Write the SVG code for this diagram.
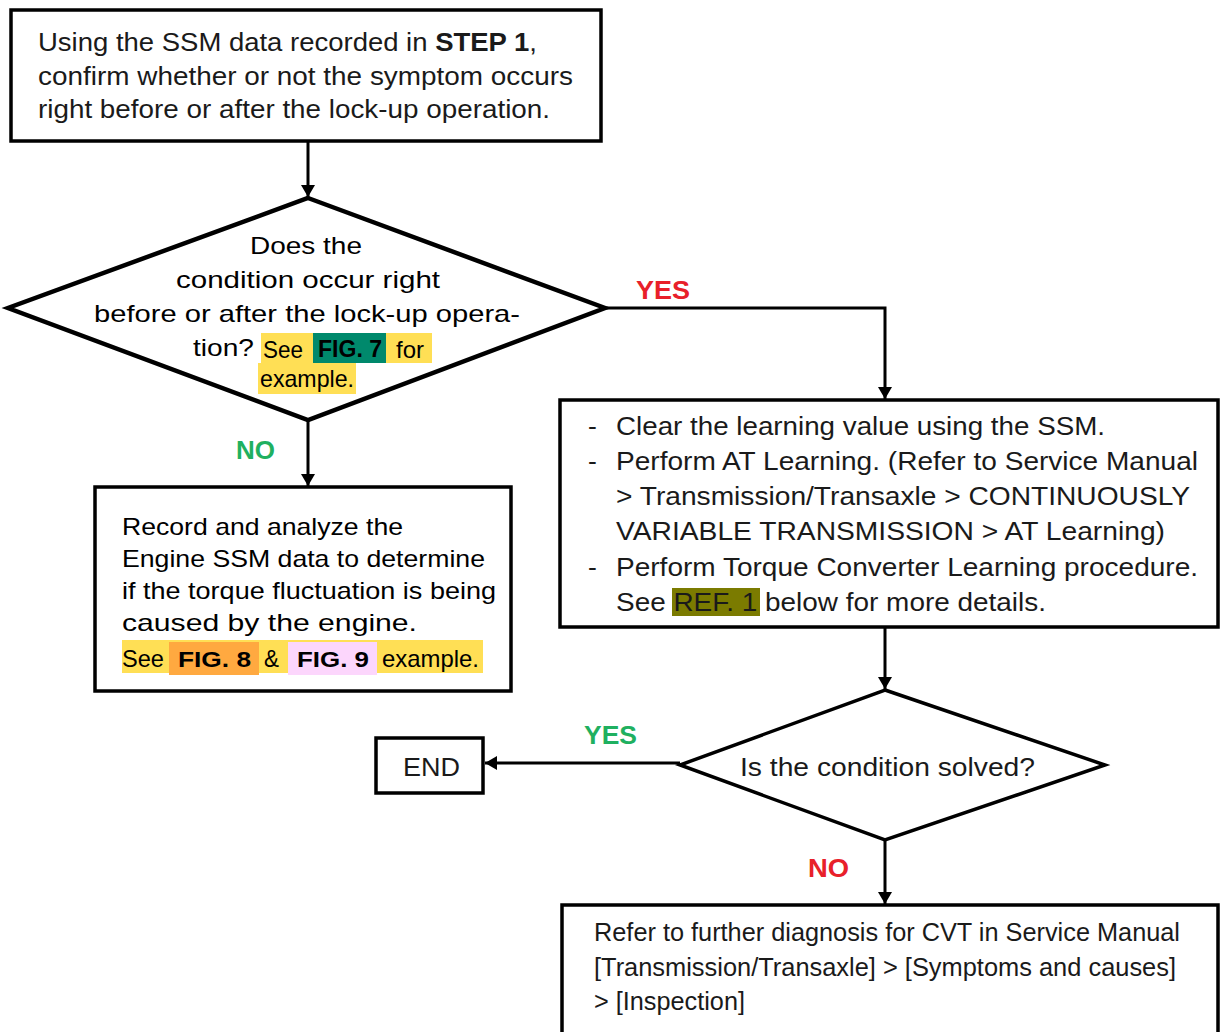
<svg xmlns="http://www.w3.org/2000/svg" width="1220" height="1032" viewBox="0 0 1220 1032">
<defs>
<style>
.box{fill:#fff;stroke:#000;stroke-width:3.5}
.cn{font-family:"Liberation Sans",Arial,sans-serif;font-size:26.5px;fill:#1a1a1a}
.hv{font-family:"Liberation Sans",Arial,sans-serif;font-size:24px;fill:#000}
.blk{font-family:"Liberation Sans",Arial,sans-serif;font-weight:900;font-size:22px;fill:#000}
.lbl{font-family:"Liberation Sans",Arial,sans-serif;font-weight:bold;font-size:26px}
.red{fill:#e8202a}
.grn{fill:#1fb060}
.ln{fill:none;stroke:#000;stroke-width:3}
</style>
<marker id="ah" viewBox="0 0 12 16" refX="12" refY="8" markerWidth="12" markerHeight="16" markerUnits="userSpaceOnUse" orient="auto">
<path d="M0,1 L12,8 L0,15 Z" fill="#000"/>
</marker>
</defs>
<rect width="1220" height="1032" fill="#fff"/>
<g id="connectors">
<line class="ln" x1="308" y1="141" x2="308" y2="197" marker-end="url(#ah)"/>
<line class="ln" x1="308" y1="420" x2="308" y2="486" marker-end="url(#ah)"/>
<polyline class="ln" points="605,308 885,308 885,399" marker-end="url(#ah)"/>
<line class="ln" x1="885" y1="627" x2="885" y2="689" marker-end="url(#ah)"/>
<line class="ln" x1="680" y1="763" x2="485" y2="763" marker-end="url(#ah)"/>
<line class="ln" x1="885" y1="840" x2="885" y2="904" marker-end="url(#ah)"/>
<text class="lbl red" x="636" y="299" textLength="54" lengthAdjust="spacingAndGlyphs">YES</text>
<text class="lbl grn" x="236" y="459" textLength="39" lengthAdjust="spacingAndGlyphs">NO</text>
<text class="lbl grn" x="584" y="744" textLength="53" lengthAdjust="spacingAndGlyphs">YES</text>
<text class="lbl red" x="808" y="877" textLength="41" lengthAdjust="spacingAndGlyphs">NO</text>
</g>
<g id="step1">
<rect class="box" x="11" y="10" width="590" height="131"/>
<text class="cn" x="38" y="51" textLength="499" lengthAdjust="spacingAndGlyphs">Using the SSM data recorded in <tspan font-weight="bold">STEP 1</tspan>,</text>
<text class="cn" x="38" y="85" textLength="535" lengthAdjust="spacingAndGlyphs">confirm whether or not the symptom occurs</text>
<text class="cn" x="38" y="118" textLength="512" lengthAdjust="spacingAndGlyphs">right before or after the lock-up operation.</text>
</g>
<g id="decision1">
<polygon points="308,198 605,308 308,420 8,308" fill="#fff" stroke="#000" stroke-width="4.5" stroke-linejoin="miter"/>
<rect x="261" y="333" width="171" height="30" fill="#ffdf55"/>
<rect x="313" y="333" width="73" height="30" fill="#00896c"/>
<rect x="258" y="363" width="98" height="31" fill="#ffdf55"/>
<text class="hv" x="250" y="254" textLength="112" lengthAdjust="spacingAndGlyphs">Does the</text>
<text class="hv" x="176" y="288" textLength="264" lengthAdjust="spacingAndGlyphs">condition occur right</text>
<text class="hv" x="94" y="322" textLength="426" lengthAdjust="spacingAndGlyphs">before or after the lock-up opera-</text>
<text class="hv" x="193" y="356" textLength="61" lengthAdjust="spacingAndGlyphs">tion?</text>
<text class="hv" x="263" y="358" textLength="40" lengthAdjust="spacingAndGlyphs">See</text>
<text class="hv" x="318" y="357" font-weight="bold" textLength="64" lengthAdjust="spacingAndGlyphs">FIG. 7</text>
<text class="hv" x="396" y="358" textLength="28" lengthAdjust="spacingAndGlyphs">for</text>
<text class="hv" x="260" y="387" textLength="94" lengthAdjust="spacingAndGlyphs">example.</text>
</g>
<g id="engine-check">
<rect class="box" x="95" y="487" width="416" height="204"/>
<rect x="122" y="640" width="361" height="33" fill="#ffdf55"/>
<rect x="169" y="642" width="90" height="33" fill="#ffa940"/>
<rect x="288" y="642" width="89" height="33" fill="#fcd6fc"/>
<text class="hv" x="122" y="535" textLength="281" lengthAdjust="spacingAndGlyphs">Record and analyze the</text>
<text class="hv" x="122" y="567" textLength="363" lengthAdjust="spacingAndGlyphs">Engine SSM data to determine</text>
<text class="hv" x="122" y="599" textLength="374" lengthAdjust="spacingAndGlyphs">if the torque fluctuation is being</text>
<text class="hv" x="122" y="631" textLength="295" lengthAdjust="spacingAndGlyphs">caused by the engine.</text>
<text class="hv" x="122" y="667" textLength="42" lengthAdjust="spacingAndGlyphs">See</text>
<text class="blk" x="178" y="667" textLength="73" lengthAdjust="spacingAndGlyphs">FIG. 8</text>
<text class="hv" x="264" y="667" textLength="15" lengthAdjust="spacingAndGlyphs">&amp;</text>
<text class="blk" x="297" y="667" textLength="72" lengthAdjust="spacingAndGlyphs">FIG. 9</text>
<text class="hv" x="382" y="667" textLength="97" lengthAdjust="spacingAndGlyphs">example.</text>
</g>
<g id="learning">
<rect class="box" x="560" y="400" width="658" height="227"/>
<rect x="672" y="588" width="88" height="28" fill="#7b7b00"/>
<text class="cn" x="588" y="435">-</text>
<text class="cn" x="616" y="435" textLength="489" lengthAdjust="spacingAndGlyphs">Clear the learning value using the SSM.</text>
<text class="cn" x="588" y="470">-</text>
<text class="cn" x="616" y="470" textLength="582" lengthAdjust="spacingAndGlyphs">Perform AT Learning. (Refer to Service Manual</text>
<text class="cn" x="616" y="505" textLength="574" lengthAdjust="spacingAndGlyphs">&gt; Transmission/Transaxle &gt; CONTINUOUSLY</text>
<text class="cn" x="616" y="540" textLength="549" lengthAdjust="spacingAndGlyphs">VARIABLE TRANSMISSION &gt; AT Learning)</text>
<text class="cn" x="588" y="576">-</text>
<text class="cn" x="616" y="576" textLength="582" lengthAdjust="spacingAndGlyphs">Perform Torque Converter Learning procedure.</text>
<text class="cn" x="616" y="611" textLength="430" lengthAdjust="spacingAndGlyphs">See REF. 1 below for more details.</text>
</g>
<g id="decision2">
<polygon points="885,690 1105,765 885,840 680,765" fill="#fff" stroke="#000" stroke-width="3.5"/>
<text class="cn" x="740" y="776" textLength="295" lengthAdjust="spacingAndGlyphs">Is the condition solved?</text>
</g>
<g id="end">
<rect class="box" x="376" y="738" width="107" height="55"/>
<text class="cn" x="403" y="776" textLength="57" lengthAdjust="spacingAndGlyphs">END</text>
</g>
<g id="further-diagnosis">
<rect class="box" x="562" y="905" width="656" height="140"/>
<text class="cn" x="594" y="941" textLength="586" lengthAdjust="spacingAndGlyphs">Refer to further diagnosis for CVT in Service Manual</text>
<text class="cn" x="594" y="976" textLength="582" lengthAdjust="spacingAndGlyphs">[Transmission/Transaxle] &gt; [Symptoms and causes]</text>
<text class="cn" x="594" y="1010" textLength="151" lengthAdjust="spacingAndGlyphs">&gt; [Inspection]</text>
</g>
</svg>
